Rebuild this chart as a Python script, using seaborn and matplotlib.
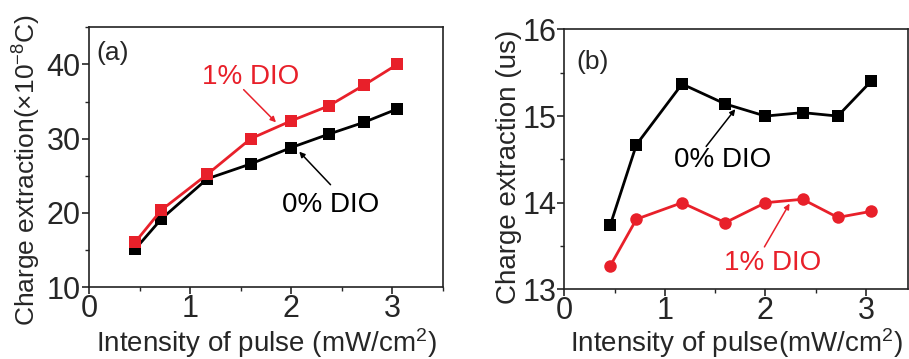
import numpy as np
import pandas as pd
import matplotlib
matplotlib.use("Agg")
import matplotlib.pyplot as plt
from matplotlib.ticker import MultipleLocator
import seaborn as sns

intensity = [0.455, 0.716, 1.17, 1.60, 2.00, 2.37, 2.72, 3.05]
charge_0 = [15.1, 19.2, 24.6, 26.6, 28.8, 30.6, 32.2, 34.0]
charge_1 = [16.05, 20.4, 25.2, 30.0, 32.4, 34.4, 37.2, 40.0]
time_0 = [13.74, 14.67, 15.37, 15.14, 15.0, 15.04, 15.0, 15.40]
time_1 = [13.27, 13.81, 14.0, 13.77, 14.0, 14.04, 13.83, 13.90]

red = "#e8202a"
black = "#000000"

sns.set_theme(style="ticks")
plt.rcParams["font.family"] = ["Liberation Sans", "DejaVu Sans"]
plt.rcParams["mathtext.fontset"] = "custom"
plt.rcParams["mathtext.rm"] = "Liberation Sans"
plt.rcParams["mathtext.it"] = "Liberation Sans"

df_a = pd.DataFrame({"x": intensity * 2,
                     "y": charge_0 + charge_1,
                     "s": ["0% DIO"] * 8 + ["1% DIO"] * 8})
df_b = pd.DataFrame({"x": intensity * 2,
                     "y": time_0 + time_1,
                     "s": ["0% DIO"] * 8 + ["1% DIO"] * 8})

fig = plt.figure(figsize=(9.09, 3.59), dpi=100)
ax1 = fig.add_axes([0.098, 0.200, 0.389, 0.724])
ax2 = fig.add_axes([0.621, 0.194, 0.378, 0.724])

sns.lineplot(data=df_a, x="x", y="y", hue="s", style="s",
             palette={"0% DIO": black, "1% DIO": red},
             markers={"0% DIO": "s", "1% DIO": "s"}, dashes=False,
             markersize=8, linewidth=2, markeredgewidth=0,
             legend=False, ax=ax1)
sns.lineplot(data=df_b, x="x", y="y", hue="s", style="s",
             palette={"0% DIO": black, "1% DIO": red},
             markers={"0% DIO": "s", "1% DIO": "o"}, dashes=False,
             markersize=9, linewidth=2, markeredgewidth=0,
             legend=False, ax=ax2)

ax1.set_xlim(0, 3.5)
ax1.set_ylim(10, 45)
ax1.yaxis.set_major_locator(MultipleLocator(10))
ax1.yaxis.set_minor_locator(MultipleLocator(5))
ax2.set_xlim(0, 3.42)
ax2.set_ylim(13, 16)
ax2.yaxis.set_major_locator(MultipleLocator(1))
ax2.yaxis.set_minor_locator(MultipleLocator(0.5))

for ax in (ax1, ax2):
    ax.xaxis.set_major_locator(MultipleLocator(1))
    ax.xaxis.set_minor_locator(MultipleLocator(0.5))
    ax.tick_params(which="major", direction="out", length=5, width=1.2,
                   labelsize=22, pad=1, top=False, right=False)
    ax.tick_params(axis="x", which="major", pad=0)
    ax.tick_params(which="minor", direction="out", length=3, width=1.0,
                   top=False, right=False)
    for sp in ax.spines.values():
        sp.set_visible(True)
        sp.set_linewidth(1.2)
        sp.set_color("#222222")

ax1.set_xlabel("Intensity of pulse (mW/cm$^2$)", fontsize=20, va="baseline")
ax1.set_ylabel("Charge extraction(\u00d710$^{-8}$C)", fontsize=19)
ax2.set_xlabel("Intensity of pulse(mW/cm$^2$)", fontsize=20, va="baseline")
ax2.set_ylabel("Charge extraction (us)", fontsize=20)
ax1.xaxis.set_label_coords(0.5, -0.248)
ax2.xaxis.set_label_coords(0.5, -0.242)
ax1.yaxis.set_label_coords(-0.13, 0.45)
ax2.yaxis.set_label_coords(-0.125, 0.47)

ax1.text(0.02, 0.90, "(a)", transform=ax1.transAxes, fontsize=19,
         ha="left", va="center")
ax2.text(0.035, 0.875, "(b)", transform=ax2.transAxes, fontsize=19,
         ha="left", va="center")

# labels
ax1.text(1.6, 38.3, "1% DIO", color=red, fontsize=20, ha="center", va="center")
ax1.text(2.39, 21.1, "0% DIO", color=black, fontsize=20, ha="center", va="center")
ax2.text(1.57, 14.49, "0% DIO", color=black, fontsize=20, ha="center", va="center")
ax2.text(2.07, 13.30, "1% DIO", color=red, fontsize=20, ha="center", va="center")

# arrows
arrows = [
    (ax1, (1.53, 36.6), (1.85, 32.2), red),
    (ax1, (2.39, 23.8), (2.08, 28.25), black),
    (ax2, (1.41, 14.65), (1.70, 15.08), black),
    (ax2, (1.99, 13.49), (2.24, 13.99), red),
]
for ax, start, end, col in arrows:
    ax.annotate("", xy=end, xytext=start,
                arrowprops=dict(arrowstyle="-|>", color=col, lw=1.1,
                                mutation_scale=8, shrinkA=0, shrinkB=0))

fig.savefig("out.png", dpi=100)
plt.close(fig)
